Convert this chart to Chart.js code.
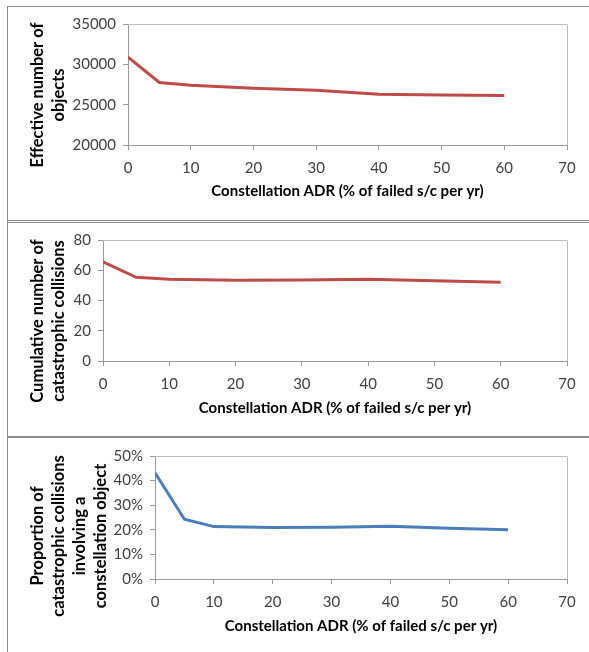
<!DOCTYPE html>
<html>
<head>
<meta charset="utf-8">
<script src="https://cdn.jsdelivr.net/npm/chart.js@4.4.1/dist/chart.umd.min.js"></script>
<style>
  html, body { margin: 0; padding: 0; background: #fff; }
  #wrap { position: relative; width: 589px; height: 652px; overflow: hidden; background: #fff; }
  .panel { position: absolute; left: 0; width: 589px; }
  .rule { position: absolute; background: #8c8c8c; }
</style>
</head>
<body>
<div id="wrap">
  <div class="panel" style="top:0;height:220px"><canvas id="c1"></canvas></div>
  <div class="panel" style="top:222px;height:215px"><canvas id="c2"></canvas></div>
  <div class="panel" style="top:437px;height:215px"><canvas id="c3"></canvas></div>
  <div class="rule" style="left:7px;top:6px;width:582px;height:1px"></div>
  <div class="rule" style="left:7px;top:6px;width:1px;height:646px"></div>
  <div class="rule" style="left:7px;top:220px;width:582px;height:1px"></div>
  <div class="rule" style="left:7px;top:222px;width:582px;height:1px"></div>
  <div class="rule" style="left:7px;top:436px;width:582px;height:2px"></div>
</div>
<script>
// Constellation active debris removal rate, % of failed spacecraft removed per year
const adrPercent = [0, 5, 10, 20, 30, 40, 50, 60];
// Effective number of objects
const effectiveObjects = [30900, 27750, 27400, 27050, 26800, 26280, 26200, 26150];
// Cumulative number of catastrophic collisions
const catastrophicCollisions = [65.5, 55.3, 54.0, 53.4, 53.6, 54.0, 53.0, 52.0];
// Share of catastrophic collisions that involve a constellation object
const constellationShare = [0.432, 0.243, 0.213, 0.209, 0.210, 0.214, 0.206, 0.200];

const xTicks = [0, 10, 20, 30, 40, 50, 60, 70];
const objectTicks = [20000, 25000, 30000, 35000];
const collisionTicks = [0, 20, 40, 60, 80];
const shareTicks = [0, 0.1, 0.2, 0.3, 0.4, 0.5];

const xTitle = 'Constellation ADR (% of failed s/c per yr)';
const FONT = 'Lato, "Open Sans", sans-serif';
const Y_W = 60, X_H = 60, RIGHT = 567, CANVAS_W = 589;

// frame around the plot area (top and right edges; left/bottom come from the axes)
const plotFrame = {
  id: 'plotFrame',
  beforeDatasetsDraw(chart) {
    const { ctx, chartArea: a } = chart;
    ctx.save();
    ctx.strokeStyle = '#bdbdbd';
    ctx.lineWidth = 1;
    ctx.beginPath();
    ctx.moveTo(a.left, a.top + 0.5);
    ctx.lineTo(a.right + 0.5, a.top + 0.5);
    ctx.lineTo(a.right + 0.5, a.bottom);
    ctx.stroke();
    ctx.restore();
  }
};

// multi-line rotated value-axis title
const yTitle = {
  id: 'yTitle',
  afterDraw(chart, args, opts) {
    const { ctx } = chart;
    const n = opts.lines.length;
    ctx.save();
    ctx.font = 'bold ' + opts.size + 'px ' + FONT;
    ctx.fillStyle = '#000';
    ctx.textAlign = 'center';
    ctx.textBaseline = 'middle';
    opts.lines.forEach((line, i) => {
      const x = opts.cx + (i - (n - 1) / 2) * opts.lineGap;
      ctx.save();
      ctx.translate(x, opts.cy);
      ctx.rotate(-Math.PI / 2);
      ctx.fillText(line, 0, 0);
      ctx.restore();
    });
    ctx.restore();
  }
};

function makeChart(id, cfg) {
  const pts = adrPercent.map((x, i) => ({ x, y: cfg.values[i] }));
  return new Chart(document.getElementById(id), {
    type: 'line',
    data: { datasets: [{ data: pts, borderColor: cfg.color, borderWidth: 3, pointRadius: 0, tension: 0, fill: false }] },
    plugins: [plotFrame, yTitle],
    options: {
      responsive: true,
      maintainAspectRatio: false,
      animation: false,
      events: [],
      layout: {
        padding: {
          left: cfg.left - Y_W,
          right: CANVAS_W - RIGHT,
          top: cfg.top,
          bottom: cfg.height - cfg.bottom - X_H
        }
      },
      plugins: {
        legend: { display: false },
        tooltip: { enabled: false },
        yTitle: { lines: cfg.titleLines, cx: cfg.titleCx, cy: cfg.titleCy, lineGap: 21, size: 16.5 }
      },
      scales: {
        x: {
          type: 'linear',
          min: 0, max: 70,
          afterFit: s => { s.height = X_H; },
          afterBuildTicks: s => { s.ticks = xTicks.map(v => ({ value: v })); },
          grid: { drawOnChartArea: false, drawTicks: true, tickLength: 5, color: '#9a9a9a' },
          border: { color: '#9a9a9a', width: 1 },
          ticks: { color: '#404040', font: { family: FONT, size: 15 }, padding: 9, maxRotation: 0 },
          title: { display: true, text: xTitle, color: '#000', font: { family: FONT, size: 15, weight: 'bold', lineHeight: 1.2 }, padding: { top: 0, bottom: cfg.xTitlePad } }
        },
        y: {
          type: 'linear',
          min: cfg.ticks[0], max: cfg.ticks[cfg.ticks.length - 1],
          afterFit: s => { s.width = Y_W; },
          afterBuildTicks: s => { s.ticks = cfg.ticks.map(v => ({ value: v })); },
          grid: { drawOnChartArea: false, drawTicks: true, tickLength: 5, color: '#9a9a9a' },
          border: { color: '#9a9a9a', width: 1 },
          ticks: { color: '#404040', font: { family: FONT, size: 15 }, padding: 7, callback: cfg.fmt }
        }
      }
    }
  });
}

makeChart('c1', {
  values: effectiveObjects, color: '#BE4B48', ticks: objectTicks,
  fmt: v => String(v),
  left: 128, top: 24, bottom: 145, height: 220, xTitlePad: 5,
  titleLines: ['Effective number of', 'objects'], titleCx: 48.5, titleCy: 95
});
makeChart('c2', {
  values: catastrophicCollisions, color: '#BE4B48', ticks: collisionTicks,
  fmt: v => String(v),
  left: 103, top: 18, bottom: 139, height: 215, xTitlePad: 4,
  titleLines: ['Cumulative number of', 'catastrophic collisions'], titleCx: 48, titleCy: 99
});
makeChart('c3', {
  values: constellationShare, color: '#4A7EBB', ticks: shareTicks,
  fmt: v => Math.round(v * 100) + '%',
  left: 155, top: 19, bottom: 142, height: 215, xTitlePad: 4,
  titleLines: ['Proportion of', 'catastrophic collisions', 'involving a', 'constellation object'], titleCx: 69, titleCy: 99
});
</script>
</body>
</html>
